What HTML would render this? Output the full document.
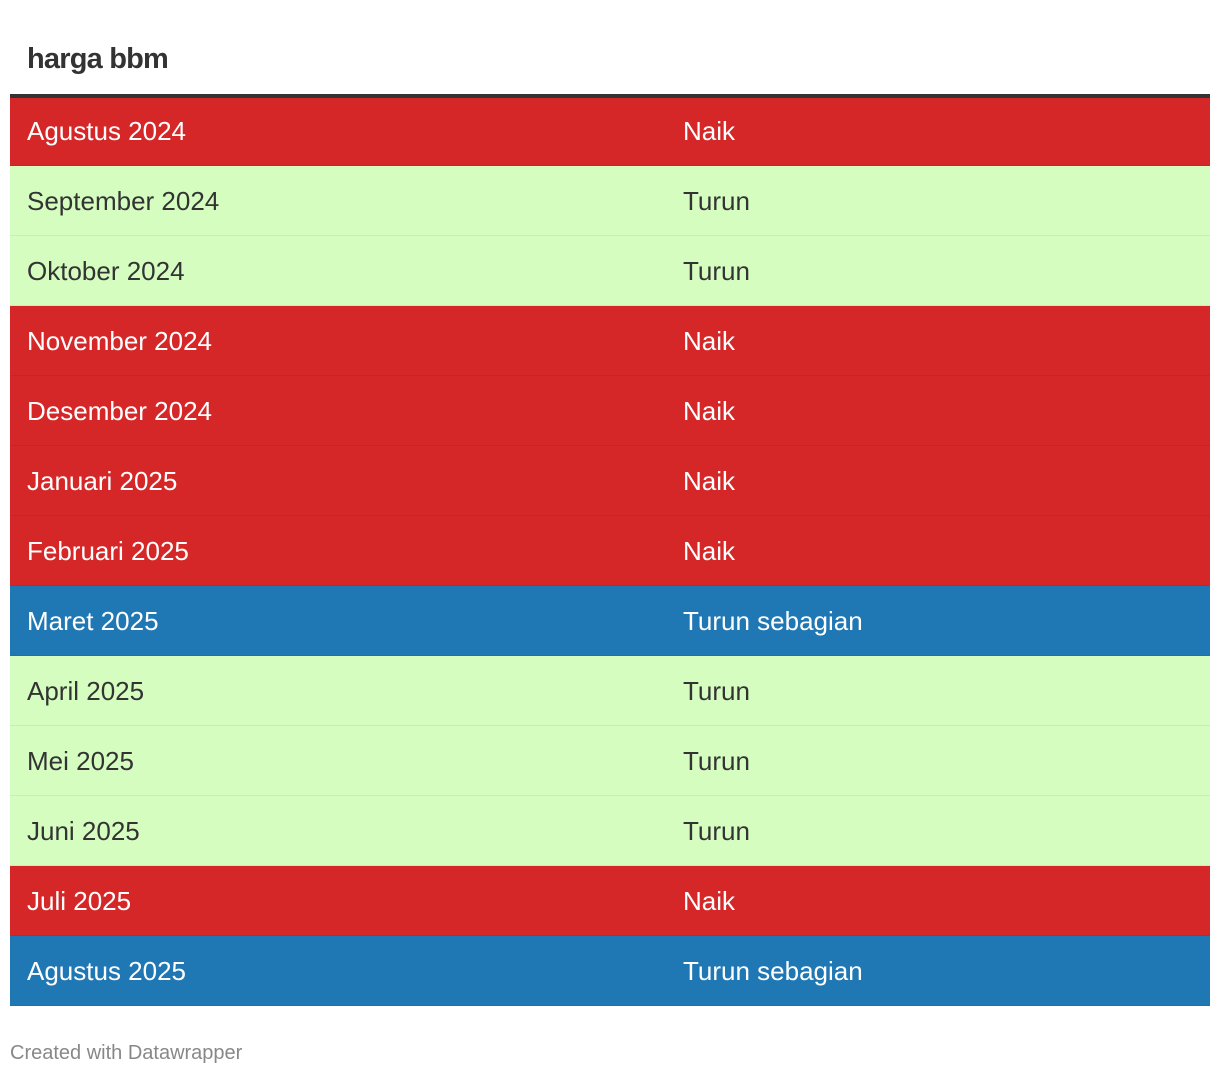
<!DOCTYPE html>
<html><head><meta charset="utf-8"><style>
body{margin:0;width:1220px;height:1078px;background:#fff;font-family:"Liberation Sans",Arial,sans-serif;position:relative;overflow:hidden}
h1{position:absolute;left:27px;top:41px;margin:0;font-size:29px;font-weight:bold;color:#333;letter-spacing:-0.8px;line-height:36px}
#tbl{position:absolute;left:10px;top:94px;width:1200px;border-top:4px solid #333}
.row{position:relative;height:70px;box-sizing:border-box;border-bottom:1px solid rgba(0,0,0,0.06);font-size:26px;line-height:70px}
.row:first-child{height:68px;line-height:66px}
.row span{position:absolute;top:0}
.c1{left:17px}.c2{left:673px}
.naik{background:#d62728;color:#fff}
.turun{background:#d5fdc0;color:#333}
.seb{background:#1f77b4;color:#fff}
#foot{position:absolute;left:10px;top:1042px;font-size:20px;color:#888}
</style></head><body>
<h1>harga bbm</h1>
<div id="tbl"></div>
<div id="foot">Created with Datawrapper</div>
<script>
const months=["Agustus 2024","September 2024","Oktober 2024","November 2024","Desember 2024","Januari 2025","Februari 2025","Maret 2025","April 2025","Mei 2025","Juni 2025","Juli 2025","Agustus 2025"];
const statuses=["Naik","Turun","Turun","Naik","Naik","Naik","Naik","Turun sebagian","Turun","Turun","Turun","Naik","Turun sebagian"];
const tbl=document.getElementById('tbl');
months.forEach((m,i)=>{
  const s=statuses[i];
  const r=document.createElement('div');
  r.className='row '+(s==='Naik'?'naik':s==='Turun'?'turun':'seb');
  
  
  const a=document.createElement('span');a.className='c1';a.textContent=m;
  
  
  const b=document.createElement('span');b.className='c2';b.textContent=s;
  
  
  r.appendChild(a);r.appendChild(b);tbl.appendChild(r);
});
</script>
</body></html>
